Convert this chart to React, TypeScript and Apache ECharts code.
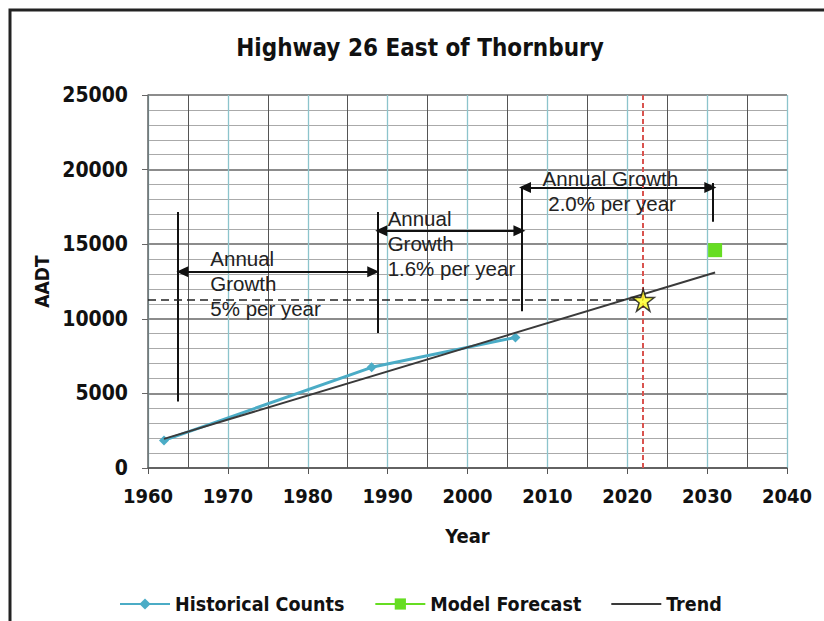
import React, { useEffect, useRef } from "react";
import * as echarts from "echarts";

const titleText = "Highway 26 East of Thornbury";
const xTicks = [1960, 2040, 10];
const yTicks = [0, 25000, 5000];

const historicalYears = [1962, 1988, 2006];
const historicalCounts = [1850, 6750, 8750];
const forecastYears = [2031];
const forecastValues = [14600];
const trendYears = [1962, 2031];
const trendValues = [1950, 13100];
const targetYear = 2022;
const targetValue = 11250;

// annotation geometry in data units: [x1, y1, x2, y2]
const vLines = [
  [1963.75, 4450, 1963.75, 17150],
  [1988.8, 9050, 1988.8, 17150],
  [2006.8, 10500, 2006.8, 18800],
  [2030.7, 16500, 2030.7, 19100],
];
const arrows = [
  [1964.3, 13150, 1988.2, 13150],
  [1989.2, 15900, 2006.5, 15900],
  [2007.2, 18800, 2030.4, 18800],
];
const annotTexts = [
  { x: 1967.8, y: 14050, text: "Annual\nGrowth\n5% per year" },
  { x: 1990.0, y: 16750, text: "Annual\nGrowth\n1.6% per year" },
  { x: 2009.4, y: 19420, text: "Annual Growth\n 2.0% per year" },
];

const BOLD = "'DejaVu Sans Condensed', 'DejaVu Sans', sans-serif";
const REG = "'Liberation Sans', Arial, sans-serif";
const STAR = "path://M50,0 L61,35 L98,35 L68,57 L79,91 L50,70 L21,91 L32,57 L2,35 L39,35 Z";
const LINE_ICON = "path://M0,0 L50,0 L50,2.2 L0,2.2 Z";

export default function App() {
  const ref = useRef<HTMLDivElement>(null);
  useEffect(() => {
    if (!ref.current) return;
    const chart = echarts.init(ref.current, undefined, { renderer: "svg" });
    const lineItems: any[] = [];
    vLines.forEach((l) =>
      lineItems.push([
        { coord: [l[0], l[1]], symbol: "none" },
        { coord: [l[2], l[3]], symbol: "none" },
      ])
    );
    arrows.forEach((l) =>
      lineItems.push([
        { coord: [l[0], l[1]], symbol: "triangle" },
        { coord: [l[2], l[3]], symbol: "triangle" },
      ])
    );
    const option: any = {
      animation: false,
      backgroundColor: "#ffffff",
      grid: { left: 148, right: 37, top: 95, bottom: 153, containLabel: false },
      legend: {
        data: [
          { name: "Historical Counts" },
          { name: "Model Forecast" },
          { name: "Trend", icon: LINE_ICON },
        ],
        left: 114,
        top: 589,
        itemGap: 30,
        itemWidth: 50,
        itemHeight: 14,
        textStyle: { fontFamily: BOLD, fontWeight: "bold", fontSize: 19.5, color: "#111" },
      },
      xAxis: {
        type: "value",
        min: xTicks[0],
        max: xTicks[1],
        interval: xTicks[2],
        name: "Year",
        nameLocation: "middle",
        nameGap: 58,
        nameTextStyle: { fontFamily: BOLD, fontWeight: "bold", fontSize: 20, color: "#111" },
        axisLine: { show: true, lineStyle: { color: "#555", width: 1.5 } },
        axisTick: { show: true, length: 6, lineStyle: { color: "#555" } },
        axisLabel: {
          margin: 18,
          fontFamily: BOLD,
          fontWeight: "bold",
          fontSize: 20,
          color: "#111",
          formatter: (v: number) => String(v),
        },
        splitLine: { show: true, lineStyle: { color: "#8cc4cc", width: 1.3 } },
        minorTick: { show: false, splitNumber: 2 },
        minorSplitLine: { show: true, lineStyle: { color: "#555", width: 1 } },
      },
      yAxis: {
        type: "value",
        min: yTicks[0],
        max: yTicks[1],
        interval: yTicks[2],
        name: "AADT",
        nameLocation: "middle",
        nameGap: 91,
        nameTextStyle: { fontFamily: BOLD, fontWeight: "bold", fontSize: 19, color: "#111" },
        axisLine: { show: true, lineStyle: { color: "#666", width: 1.5 } },
        axisTick: { show: true, length: 6, lineStyle: { color: "#666" } },
        axisLabel: {
          margin: 20,
          fontFamily: BOLD,
          fontWeight: "bold",
          fontSize: 21,
          color: "#111",
          formatter: (v: number) => String(v),
        },
        splitLine: { show: true, lineStyle: { color: "#666", width: 1.5 } },
        minorTick: { show: false, splitNumber: 5 },
        minorSplitLine: { show: true, lineStyle: { color: "#aaa", width: 1 } },
      },
      series: [
        {
          name: "Historical Counts",
          type: "line",
          data: historicalYears.map((y, i) => [y, historicalCounts[i]]),
          symbol: "diamond",
          symbolSize: 10,
          itemStyle: { color: "#4bacc6" },
          lineStyle: { color: "#4bacc6", width: 3 },
          z: 3,
        },
        {
          name: "Model Forecast",
          type: "line",
          data: forecastYears.map((y, i) => [y, forecastValues[i]]),
          symbol: "rect",
          symbolSize: 14,
          itemStyle: { color: "#66dd22" },
          lineStyle: { color: "#66dd22", width: 3 },
          z: 3,
        },
        {
          name: "Trend",
          type: "line",
          data: trendYears.map((y, i) => [y, trendValues[i]]),
          symbol: "none",
          itemStyle: { color: "#3a3a3a" },
          lineStyle: { color: "#3a3a3a", width: 2 },
          z: 4,
        },
        {
          name: "annotations",
          type: "line",
          data: [],
          silent: true,
          z: 5,
          markLine: {
            silent: true,
            animation: false,
            symbol: ["none", "none"],
            label: { show: false },
            symbolSize: [11, 12],
            lineStyle: { color: "#111", width: 2, type: "solid" },
            data: [
              ...lineItems,
              [
                { coord: [targetYear, yTicks[0]], symbol: "none", lineStyle: { color: "#d9534f", width: 2, type: [5, 3] } },
                { coord: [targetYear, yTicks[1]], symbol: "none" },
              ],
              [
                { coord: [xTicks[0], targetValue], symbol: "none", lineStyle: { color: "#222", width: 1.5, type: [8, 5] } },
                { coord: [targetYear, targetValue], symbol: "none" },
              ],
            ],
          },
        },
        {
          name: "target",
          type: "scatter",
          data: [[targetYear, targetValue]],
          symbol: STAR,
          symbolSize: 22,
          itemStyle: { color: "#ffff20", borderColor: "#111", borderWidth: 1.5 },
          z: 6,
        },
      ],
    };
    chart.setOption(option);
    const graphics: any[] = [
      {
        type: "rect",
        shape: { x: 10, y: 10, width: 840, height: 640 },
        style: { fill: "none", stroke: "#222", lineWidth: 3 },
        silent: true,
      },
      {
        type: "text",
        x: 420,
        y: 48,
        style: {
          text: titleText,
          fontFamily: BOLD,
          fontWeight: "bold",
          fontSize: 24,
          fill: "#111",
          align: "center",
          verticalAlign: "middle",
        },
      },
    ];
    annotTexts.forEach((t) => {
      const p = chart.convertToPixel({ gridIndex: 0 }, [t.x, t.y]) as number[];
      graphics.push({
        type: "text",
        x: p[0],
        y: p[1] - 12,
        z: 10,
        style: {
          text: t.text,
          fontFamily: REG,
          fontSize: 20.5,
          lineHeight: 25,
          fill: "#222",
          align: "left",
          verticalAlign: "top",
        },
      });
    });
    chart.setOption({ graphic: graphics });
    return () => chart.dispose();
  }, []);
  return (
    <div
      ref={ref}
      style={{ position: "absolute", left: 0, top: 0, width: 824, height: 621, background: "#fff" }}
    />
  );
}
